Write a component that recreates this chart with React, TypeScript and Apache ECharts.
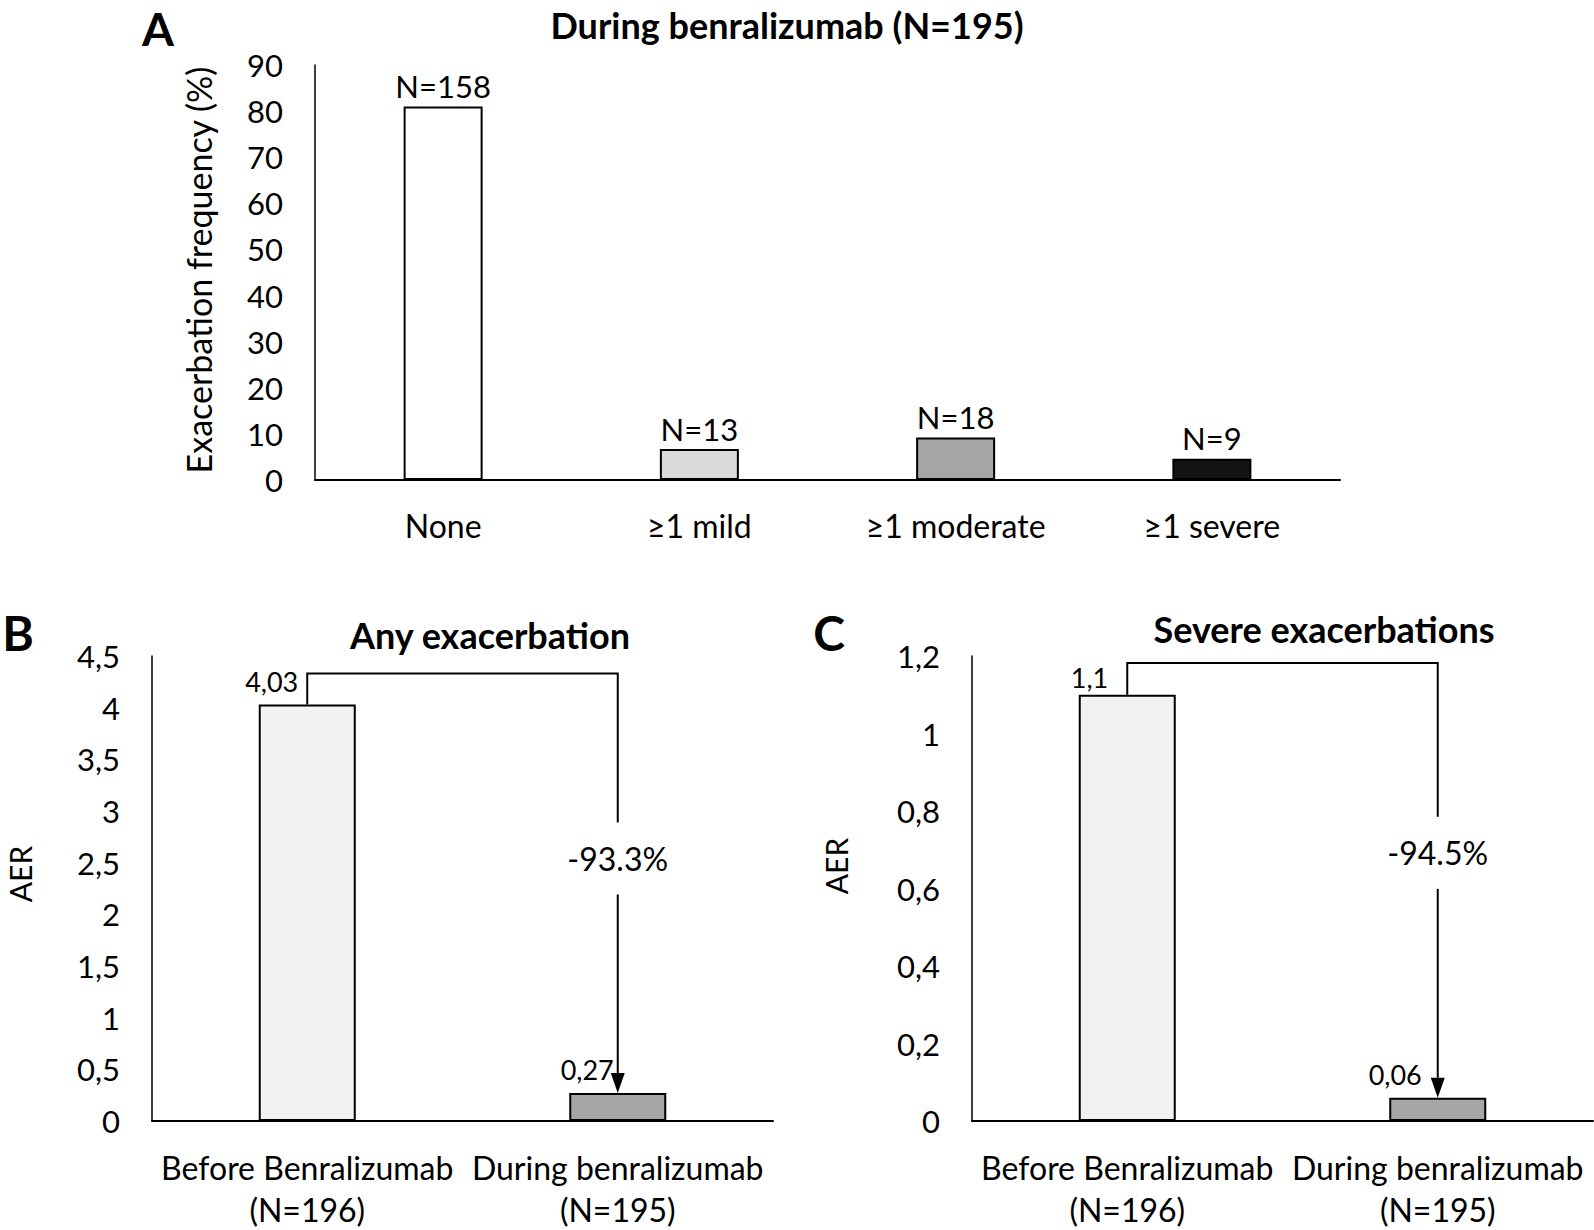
import React, { useEffect, useRef } from "react";
import * as echarts from "echarts";

// ---- data ----
const categoriesA = ["None", "≥1 mild", "≥1 moderate", "≥1 severe"];
const countsA = [158, 13, 18, 9];
const percentA = [81.0, 6.7, 9.2, 4.6];

const categoriesBC = ["Before Benralizumab\n(N=196)", "During benralizumab\n(N=195)"];
const aerAny = [4.03, 0.27];
const aerSevere = [1.1, 0.06];
const reductionAny = "-93.3%";
const reductionSevere = "-94.5%";

// ---- styles ----
const FONT = "Lato, 'Open Sans', sans-serif";
const colorsA = ["#ffffff", "#d9d9d9", "#a6a6a6", "#141414"];
const colorsBC = ["#f2f2f2", "#a6a6a6"];

const fmtComma = (v: number) => String(+v.toFixed(2)).replace(".", ",");

function bracket(label: string, topVal: number, labelVal: number) {
  return (params: any, api: any) => {
    const p0 = api.coord([api.value(0), api.value(1)]);
    const p1 = api.coord([api.value(2), api.value(3)]);
    const yt = api.coord([api.value(0), topVal])[1];
    const yl = api.coord([api.value(2), labelVal])[1];
    const gap = 36;
    const ah = 20;
    const aw = 7;
    return {
      type: "group",
      children: [
        {
          type: "polyline",
          shape: { points: [[p0[0], p0[1]], [p0[0], yt], [p1[0], yt], [p1[0], yl - gap]] },
          style: { stroke: "#000", lineWidth: 2, fill: "none" },
        },
        {
          type: "line",
          shape: { x1: p1[0], y1: yl + gap, x2: p1[0], y2: p1[1] - ah },
          style: { stroke: "#000", lineWidth: 2 },
        },
        {
          type: "polygon",
          shape: { points: [[p1[0] - aw, p1[1] - ah], [p1[0] + aw, p1[1] - ah], [p1[0], p1[1]]] },
          style: { fill: "#000" },
        },
        {
          type: "text",
          style: {
            text: label,
            x: p1[0],
            y: yl,
            align: "center",
            verticalAlign: "middle",
            fontSize: 32,
            fontFamily: FONT,
            fill: "#000",
          },
        },
      ],
    };
  };
}

const axisText = { color: "#000", fontFamily: FONT, fontSize: 31 };

export default function App() {
  const ref = useRef<HTMLDivElement>(null);
  useEffect(() => {
    if (!ref.current) return;
    const chart = echarts.init(ref.current, undefined, { renderer: "svg" });

    const xCommon = (idx: number, data: string[], margin: number, lh?: number) => ({
      type: "category",
      gridIndex: idx,
      data,
      axisTick: { show: false },
      axisLine: { show: true, lineStyle: { color: "#000", width: 2 } },
      axisLabel: { ...axisText, fontSize: 32, margin, lineHeight: lh, interval: 0 },
      splitLine: { show: false },
    });
    const yCommon = (idx: number, max: number, interval: number, fmt: (v: number) => string) => ({
      type: "value",
      gridIndex: idx,
      min: 0,
      max,
      interval,
      axisTick: { show: false },
      axisLine: { show: true, lineStyle: { color: "#000", width: 1.5 } },
      axisLabel: { ...axisText, margin: 32, formatter: fmt },
      splitLine: { show: false },
    });

    const labelBC = (v: number, dx: number, dist: number) => ({
      show: true,
      position: "top",
      align: "right",
      distance: dist,
      offset: [dx, 0],
      formatter: fmtComma(v),
      ...axisText,
      fontSize: 27,
    });

    const option: any = {
      animation: false,
      backgroundColor: "#fff",
      grid: [
        { left: 315, top: 65, width: 1025, height: 415 },
        { left: 152, top: 656, width: 621, height: 468 },
        { left: 972, top: 656, width: 621, height: 468 },
      ],
      xAxis: [
        xCommon(0, categoriesA, 29),
        xCommon(1, categoriesBC, 25, 42),
        xCommon(2, categoriesBC, 25, 42),
      ],
      yAxis: [
        yCommon(0, 90, 10, (v) => String(v)),
        yCommon(1, 4.5, 0.5, (v) => String(+v.toFixed(1)).replace(".", ",")),
        yCommon(2, 1.2, 0.2, (v) => String(+v.toFixed(1)).replace(".", ",")),
      ],
      series: [
        {
          type: "bar",
          xAxisIndex: 0,
          yAxisIndex: 0,
          barWidth: 79,
          data: percentA.map((v, i) => ({
            value: v,
            itemStyle: { color: colorsA[i], borderColor: "#000", borderWidth: 2 },
            label: {
              show: true,
              position: "top",
              distance: 5,
              formatter: "N=" + countsA[i],
              ...axisText,
            },
          })),
        },
        {
          type: "bar",
          xAxisIndex: 1,
          yAxisIndex: 1,
          barWidth: 97,
          data: aerAny.map((v, i) => ({
            value: v,
            itemStyle: { color: colorsBC[i], borderColor: "#000", borderWidth: 2 },
            label: labelBC(v, i === 0 ? -9 : -4, 10),
          })),
        },
        {
          type: "bar",
          xAxisIndex: 2,
          yAxisIndex: 2,
          barWidth: 97,
          data: aerSevere.map((v, i) => ({
            value: v,
            itemStyle: { color: colorsBC[i], borderColor: "#000", borderWidth: 2 },
            label: labelBC(v, i === 0 ? -19 : -16, i === 0 ? 4 : 10),
          })),
        },
        {
          type: "custom",
          xAxisIndex: 1,
          yAxisIndex: 1,
          z: 5,
          renderItem: bracket(reductionAny, 4.33, 2.54),
          data: [[0, aerAny[0], 1, aerAny[1]]],
        },
        {
          type: "custom",
          xAxisIndex: 2,
          yAxisIndex: 2,
          z: 5,
          renderItem: bracket(reductionSevere, 1.182, 0.692),
          data: [[0, aerSevere[0], 1, aerSevere[1]]],
        },
      ],
      graphic: [
        { type: "text", x: 158, y: 28, style: { text: "A", fontSize: 46, fontWeight: "bold", fontFamily: FONT, fill: "#000", align: "center", verticalAlign: "middle" } },
        { type: "text", x: 787, y: 25, style: { text: "During benralizumab (N=195)", fontSize: 36, fontWeight: "bold", fontFamily: FONT, fill: "#000", align: "center", verticalAlign: "middle" } },
        { type: "text", x: 18, y: 632, style: { text: "B", fontSize: 48, fontWeight: "bold", fontFamily: FONT, fill: "#000", align: "center", verticalAlign: "middle" } },
        { type: "text", x: 490, y: 635, style: { text: "Any exacerbation", fontSize: 36, fontWeight: "bold", fontFamily: FONT, fill: "#000", align: "center", verticalAlign: "middle" } },
        { type: "text", x: 829, y: 632, style: { text: "C", fontSize: 48, fontWeight: "bold", fontFamily: FONT, fill: "#000", align: "center", verticalAlign: "middle" } },
        { type: "text", x: 1324, y: 629, style: { text: "Severe exacerbations", fontSize: 36, fontWeight: "bold", fontFamily: FONT, fill: "#000", align: "center", verticalAlign: "middle" } },
        { type: "text", x: 198, y: 270, rotation: Math.PI / 2, style: { text: "Exacerbation frequency (%)", fontSize: 34, fontFamily: FONT, fill: "#000", align: "center", verticalAlign: "middle" } },
        { type: "text", x: 20, y: 874, rotation: Math.PI / 2, style: { text: "AER", fontSize: 30, fontFamily: FONT, fill: "#000", align: "center", verticalAlign: "middle" } },
        { type: "text", x: 836, y: 866, rotation: Math.PI / 2, style: { text: "AER", fontSize: 30, fontFamily: FONT, fill: "#000", align: "center", verticalAlign: "middle" } },
      ],
    };
    chart.setOption(option);
    return () => chart.dispose();
  }, []);
  return (
    <div
      ref={ref}
      style={{ position: "fixed", left: 0, top: 0, width: 1594, height: 1230, background: "#fff" }}
    />
  );
}
